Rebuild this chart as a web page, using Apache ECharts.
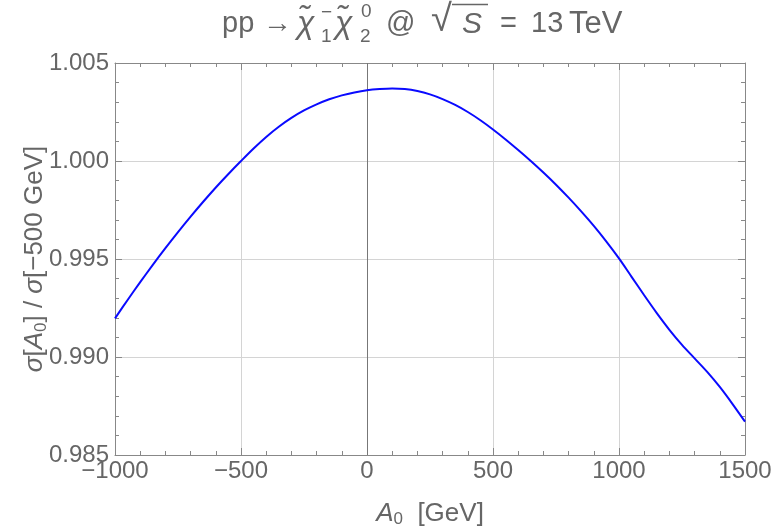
<!DOCTYPE html>
<html>
<head>
<meta charset="utf-8">
<script src="https://cdn.jsdelivr.net/npm/echarts@6/dist/echarts.min.js"></script>
<style>html,body{margin:0;padding:0;background:#fff}#c{width:777px;height:529px}</style>
</head>
<body>
<div id="c"></div>
<script>
const xValues = [-1000,-950,-900,-850,-800,-750,-700,-650,-600,-550,-500,-450,-400,-350,-300,-250,-200,-150,-100,-50,0,50,100,150,200,250,300,350,400,450,500,550,600,650,700,750,800,850,900,950,1000,1050,1100,1150,1200,1250,1300,1350,1400,1450,1500];
const ratioValues = [0.99197,0.99291,0.99382,0.99470,0.99555,0.99637,0.99716,0.99792,0.99865,0.99934,1.00000,1.00064,1.00123,1.00175,1.00220,1.00258,1.00289,1.00315,1.00335,1.00350,1.00361,1.00367,1.00370,1.00367,1.00357,1.00340,1.00316,1.00286,1.00250,1.00208,1.00161,1.00110,1.00056,1.00000,0.99941,0.99879,0.99813,0.99743,0.99669,0.99589,0.99503,0.99409,0.99315,0.99224,0.99139,0.99062,0.98993,0.98924,0.98847,0.98761,0.98670];
const xTicks = [-1000,-500,0,500,1000,1500];
const yTicks = [0.985,0.990,0.995,1.000,1.005];

const FONT = 'Liberation Sans';
const TXT = '#666666';
const FRAME = '#888888';
const chart = echarts.init(document.getElementById('c'), null, {renderer:'canvas'});
const data = xValues.map((x,i)=>[x, ratioValues[i]]);

function t(text, x, y, size, italic){
  return {type:'text', x:x, y:y, silent:true,
    style:{text:text, font:(italic?'italic ':'')+size+'px "'+FONT+'"', fill:TXT, textAlign:'left', textVerticalAlign:'middle', align:'left', verticalAlign:'middle'}};
}
const M = 29, S = 19, MY = 24.3;

const baseAxisTick = {show:true, inside:true, length:7, lineStyle:{color:FRAME}};
const baseMinor = {show:true, splitNumber:5, length:4, lineStyle:{color:FRAME}};
const richName = {
  n:{fontSize:26, color:TXT, fontFamily:FONT},
  i:{fontStyle:'italic', fontSize:26, color:TXT, fontFamily:FONT},
  s:{fontSize:17, color:TXT, fontFamily:FONT, padding:[12,0,0,0]}
};

chart.setOption({
  animation:false,
  backgroundColor:'#fff',
  grid:{left:115, right:32, top:63, bottom:74, containLabel:false, outerBoundsMode:'none'},
  graphic:[
    t('pp', 222, MY, M, false),
    t('→', 263, MY, M, false),
    t('χ\u0303', 297, MY, 32, true),
    t('1', 321, 36.5, S, false),
    t('−', 321, 12.4, S, false),
    t('χ\u0303', 335, MY, 32, true),
    t('2', 360, 36.5, S, false),
    t('0', 361, 11.6, S, false),
    t('@', 386, MY, M, false),
    t('√', 431, 20.5, 38, false),
    {type:'line', silent:true, shape:{x1:452, y1:4.5, x2:488, y2:4.5}, style:{stroke:TXT, lineWidth:1.6}},
    t('S', 462, MY, M+1, true),
    t('=', 500, MY, M, false),
    t('13', 531, MY, M, false),
    t('TeV', 569, MY, 31, false),
    {type:'text', x:35, y:259, rotation:Math.PI/2, silent:true,
      style:{text:'{i|σ}{n|[}{i|A}{s|0}{n|] / }{i|σ}{n|[−500 GeV]}', rich:richName,
        fill:TXT, font:'26px "'+FONT+'"', align:'center', verticalAlign:'middle', textAlign:'center', textVerticalAlign:'middle'}}
  ],
  xAxis:[{
    type:'value', min:-1000, max:1500, interval:500, position:'bottom',
    axisLine:{show:true, onZero:false, lineStyle:{color:FRAME, width:1}},
    axisTick:baseAxisTick, minorTick:baseMinor,
    splitLine:{show:true, lineStyle:{color:'#d4d4d4', width:1}},
    axisLabel:{color:TXT, fontSize:24, fontFamily:FONT, margin:4,
      formatter:v=>xTicks.includes(v)?String(v).replace('-','−'):''},
    name:'{i|A}{s|0}{n|  [GeV]}', nameLocation:'middle', nameGap:44,
    nameTextStyle:{color:TXT, fontSize:26, fontFamily:FONT, rich:richName}
  },{
    type:'value', min:-1000, max:1500, interval:500, position:'top',
    axisLine:{show:true, onZero:false, lineStyle:{color:FRAME, width:1}},
    axisTick:baseAxisTick, minorTick:baseMinor, axisLabel:{show:false}, splitLine:{show:false}
  }],
  yAxis:[{
    type:'value', min:0.985, max:1.005, interval:0.005, position:'left',
    axisLine:{show:true, onZero:false, lineStyle:{color:FRAME, width:1}},
    axisTick:baseAxisTick, minorTick:baseMinor,
    splitLine:{show:true, lineStyle:{color:'#d4d4d4', width:1}},
    axisLabel:{color:TXT, fontSize:24, fontFamily:FONT, margin:6, formatter:v=>v.toFixed(3)}
  },{
    type:'value', min:0.985, max:1.005, interval:0.005, position:'right',
    axisLine:{show:true, onZero:false, lineStyle:{color:FRAME, width:1}},
    axisTick:baseAxisTick, minorTick:baseMinor, axisLabel:{show:false}, splitLine:{show:false}
  }],
  series:[{
    type:'line', xAxisIndex:0, yAxisIndex:0, data:data, smooth:0.3, symbol:'none',
    lineStyle:{color:'#0a0aff', width:2},
    markLine:{silent:true, symbol:'none', label:{show:false},
      lineStyle:{color:'#777777', width:1, type:'solid'}, data:[{xAxis:0}]},
    z:5
  }]
});
</script>
</body>
</html>
